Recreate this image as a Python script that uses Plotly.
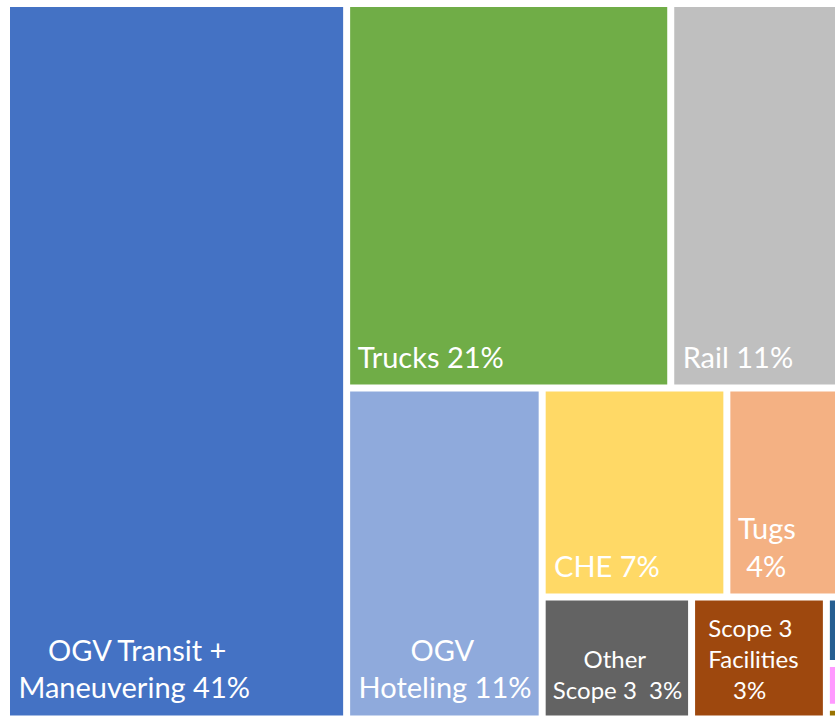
import plotly.graph_objects as go

NB = "\u00a0"
# spacer that lifts the last text line off the tile's bottom edge
LIFT = '<span style="baseline-shift:-10px">' + NB + "</span>"

# hierarchy (ids / parents) and values (percent of total emissions)
ids = ["All", "Transit", "Rest", "Top", "Bottom", "Trucks", "Rail",
       "Hoteling", "BR", "BRtop", "BRbot", "CHE", "Tugs",
       "Other3", "Facilities", "Small", "SmallA", "SmallB", "SmallC"]
parents = ["", "All", "All", "Rest", "Rest", "Top", "Top",
           "Bottom", "Bottom", "BR", "BR", "BRtop", "BRtop",
           "BRbot", "BRbot", "BRbot", "Small", "Small", "Small"]
values = [0, 41.0, 0, 0, 0, 21.0, 11.0,
          10.9, 0, 0, 0, 6.5, 4.0,
          3.07, 2.77, 0, 0.158, 0.104, 0.028]
labels = ["", "OGV Transit + Maneuvering", "", "", "", "Trucks", "Rail",
          "OGV Hoteling", "", "", "", "CHE", "Tugs",
          "Other Scope 3", "Scope 3 Facilities", "", "", "", ""]
texts = ["",
         NB * 5 + "OGV Transit +<br>" + LIFT + "Maneuvering 41%", "", "", "",
         LIFT + "Trucks 21%",
         LIFT + "Rail 11%",
         NB * 8 + "OGV<br>" + LIFT + "Hoteling 11%", "", "", "",
         LIFT + "CHE 7%",
         NB + "Tugs<br>" + LIFT + NB + "4%",
         NB * 6 + "Other<br>" + LIFT + "Scope 3" + NB * 2 + "3%",
         NB * 2 + "Scope 3<br>" + NB * 2 + "Facilities<br>" + LIFT + NB * 5 + "3%",
         "", "", "", ""]
colors = ["#FFFFFF", "#4472C4", "#FFFFFF", "#FFFFFF", "#FFFFFF", "#70AD47", "#BFBFBF",
          "#8FAADC", "#FFFFFF", "#FFFFFF", "#FFFFFF", "#FFD966", "#F4B183",
          "#636363", "#9E480E", "#FFFFFF", "#255E91", "#FF99FF", "#997300"]
sizes = [10, 29, 10, 10, 10, 29, 29,
         29, 10, 10, 10, 29, 29,
         24, 24, 10, 10, 10, 10]

W, H = 845, 724
fig = go.Figure(go.Treemap(
    ids=ids, parents=parents, values=values, labels=labels,
    text=texts, textinfo="text", branchvalues="remainder", sort=False,
    marker=dict(colors=colors, line=dict(color="white", width=4),
                pad=dict(t=0, l=0, r=0, b=0), depthfade=False),
    tiling=dict(packing="slice-dice"),
    pathbar=dict(visible=False),
    textposition="bottom left",
    textfont=dict(family="Lato", color="white", size=sizes),
    hoverinfo="skip",
    domain=dict(x=[8 / W, 839 / W], y=[(H - 717.5) / H, (H - 5) / H]),
))
fig.update_layout(width=W, height=H, margin=dict(l=0, r=0, t=0, b=0),
                  paper_bgcolor="white", showlegend=False)
fig.write_html("out.html", config={"displayModeBar": False}, post_script=(
    "document.body.style.margin='0';"
    "document.body.style.overflow='hidden';"
    "document.documentElement.style.overflow='hidden';"))
